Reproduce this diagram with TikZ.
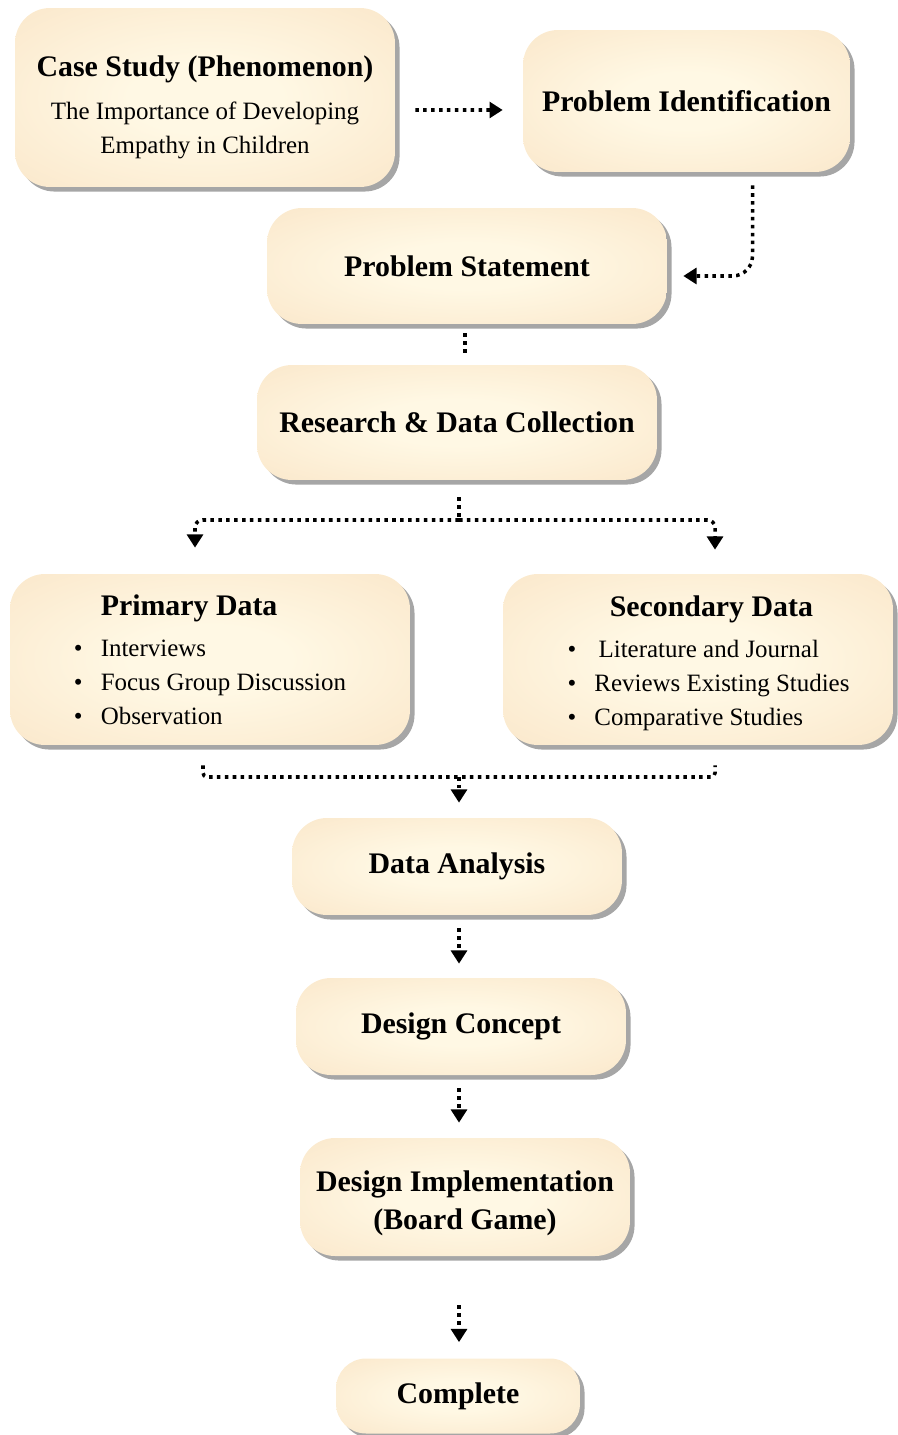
\documentclass[tikz,border=0pt]{standalone}
\usepackage{fontspec}
\setmainfont{Liberation Serif}
\usetikzlibrary{arrows.meta,shadows}
\definecolor{boxin}{RGB}{255,248,228}
\definecolor{boxout}{RGB}{248,223,190}
\pgfdeclareradialshading{cream}{\pgfpoint{0bp}{0bp}}{color(0bp)=(boxin); color(10bp)=(boxin); color(50bp)=(boxout)}
\newcommand{\boxtitle}{\bfseries\fontsize{17}{23.2}\selectfont}
\newcommand{\bitem}[1]{\makebox[15.3pt][l]{\textbullet}#1}
\begin{document}
\begin{tikzpicture}[x=0.02cm,y=-0.02cm,
	box/.style={rectangle,rounded corners=0.7cm,shading=cream,align=center,
		drop shadow={shadow xshift=2.6pt,shadow yshift=-2.6pt,fill=black!50,opacity=.7},
		font=\fontsize{14.2}{19.3}\selectfont},
	dotline/.style={line width=2pt,dash pattern=on 2pt off 2.5pt},
	flow/.style={dotline,-{Triangle[width=9pt,length=7.5pt]}}]
	\useasboundingbox (0,0) rectangle (897,1435);
	% boxes
	\node[box,minimum width=7.6cm,minimum height=3.58cm] (case) at (205,97.5) {{\boxtitle\rule{0pt}{23pt}Case Study (Phenomenon)}\\[5pt]The Importance of Developing\\Empathy in Children};
	\node[box,minimum width=6.54cm,minimum height=2.84cm] (ident) at (686.5,101) {\boxtitle Problem Identification};
	\node[box,minimum width=8cm,minimum height=2.32cm] (statement) at (467,266) {\boxtitle Problem Statement};
	\node[box,minimum width=8cm,minimum height=2.3cm] (research) at (457,422.5) {\boxtitle Research \& Data Collection};
	\node[box,align=left,minimum width=8cm,minimum height=3.42cm] (primary) at (210,659.5) {\hspace*{15.3pt}{\boxtitle Primary Data}\\[4pt]\bitem{Interviews}\\\bitem{Focus Group Discussion}\\\bitem{Observation}\hspace*{6pt}};
	\node[box,align=left,minimum width=7.8cm,minimum height=3.42cm] (secondary) at (698,659.5) {\hspace*{36pt}{\boxtitle\rule{0pt}{16pt}Secondary Data}\\[4pt]\hspace*{12pt}\bitem{\,Literature and Journal}\\\hspace*{12pt}\bitem{Reviews Existing Studies}\\\hspace*{12pt}\bitem{Comparative Studies}};
	\node[box,minimum width=6.6cm,minimum height=1.94cm] (analysis) at (457,866.5) {\boxtitle Data Analysis};
	\node[box,minimum width=6.6cm,minimum height=1.94cm] (concept) at (461,1026.5) {\boxtitle Design Concept};
	\node[box,minimum width=6.6cm,minimum height=2.36cm] (implement) at (465,1197) {{\boxtitle\rule{0pt}{19pt}Design Implementation}\\[2pt]{\boxtitle (Board Game)}};
	\node[box,rounded corners=0.6cm,minimum width=4.88cm,minimum height=1.5cm] (complete) at (458,1396) {\boxtitle Complete};
	% connectors
	\draw[flow] ([shift={(20,12.5)}]case.east) -- ([shift={(-20,9)}]ident.west);
	\draw[flow,rounded corners=0.4cm] ([shift={(66,13)}]ident.south) |- ([shift={(16,10)}]statement.east);
	\draw[dotline] ([shift={(-2,9)}]statement.south) -- ([shift={(8,-8)}]research.north);
	\coordinate (split) at (459,520);
	\draw[dotline] ([shift={(2,17)}]research.south) -- (split);
	\draw[flow,rounded corners=0.15cm] (split) -| ([shift={(-15,-26)}]primary.north);
	\draw[flow,rounded corners=0.15cm] (split) -| ([shift={(17,-24)}]secondary.north);
	\coordinate (join) at (459,777);
	\draw[dotline,rounded corners=0.08cm] ([shift={(-7,20)}]primary.south) |- (join) -| ([shift={(17,20)}]secondary.south);
	\draw[flow] (join) -- ([shift={(2,-15)}]analysis.north);
	\draw[flow] ([shift={(2,13)}]analysis.south) -- ([shift={(-2,-14)}]concept.north);
	\draw[flow] ([shift={(-2,13)}]concept.south) -- ([shift={(-6,-15)}]implement.north);
	\draw[flow] ([shift={(-6,49)}]implement.south) -- ([shift={(1,-16)}]complete.north);
\end{tikzpicture}
\end{document}
